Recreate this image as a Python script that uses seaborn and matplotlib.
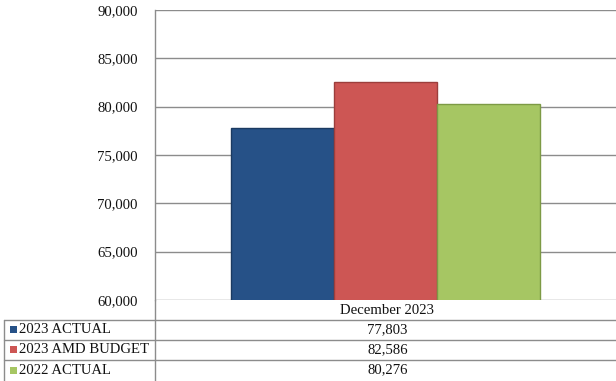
import matplotlib
matplotlib.use("Agg")
import matplotlib.pyplot as plt
import seaborn as sns
import pandas as pd
from matplotlib.lines import Line2D
from matplotlib.patches import Rectangle

categories = ["December 2023"]
series = ["2023 ACTUAL", "2023 AMD BUDGET", "2022 ACTUAL"]
values = [77803, 82586, 80276]
colors = ["#265187", "#CD5654", "#A6C663"]
edge_colors = ["#1b3a61", "#9c3e3c", "#7d9a45"]
yticks = [60000, 65000, 70000, 75000, 80000, 85000, 90000]

df = pd.DataFrame({"month": categories * len(series), "series": series, "value": values})

sns.set_theme(style="white")
plt.rcParams["font.family"] = ["Liberation Serif", "DejaVu Serif"]

FS = 10.6
TXT = "#111111"
W, H = 616, 381
fig = plt.figure(figsize=(W / 100, H / 100), dpi=100)
fig.patch.set_facecolor("white")

left, right, top, bottom = 155, 616, 10, 300
ax = fig.add_axes([left / W, 1 - bottom / H, (right - left) / W, (bottom - top) / H])

sns.barplot(data=df, x="month", y="value", hue="series", palette=colors,
            width=0.67, ax=ax, legend=False, saturation=1)
for patch, ec in zip(ax.patches, edge_colors):
    patch.set_edgecolor(ec)
    patch.set_linewidth(1.0)
    patch.set_zorder(3)

ax.set_xlim(-0.5, 0.5)
ax.set_ylim(60000, 90000)
ax.set_yticks(yticks)
ax.set_yticklabels([f"{v:,}" for v in yticks], fontsize=FS, color=TXT)
ax.tick_params(axis="y", length=0, pad=12.5)
ax.set_xticks([])
ax.set_xlabel("")
ax.set_ylabel("")
for v in yticks:
    ax.axhline(v, color="#8c8c8c", linewidth=1.0, zorder=1)
for s in ["top", "right", "bottom"]:
    ax.spines[s].set_visible(False)
ax.spines["left"].set_color("#8c8c8c")
ax.spines["left"].set_linewidth(1.0)


def fx(x):
    return x / W


def fy(y):
    return 1 - y / H


line_kw = dict(color="#8c8c8c", linewidth=1.0, transform=fig.transFigure)
# table grid
fig.add_artist(Line2D([fx(155), fx(155)], [fy(300), fy(381)], **line_kw))
fig.add_artist(Line2D([fx(4), fx(4)], [fy(320), fy(381)], **line_kw))
for yy in [320, 339.5, 359.5]:
    fig.add_artist(Line2D([fx(4), fx(616)], [fy(yy), fy(yy)], **line_kw))

cx = (155 + 616) / 2 + 2
fig.text(fx(cx), fy(310), categories[0], ha="center", va="center", fontsize=FS, color=TXT)
row_centers = [329.5, 349.5, 370]
for name, val, col, yc in zip(series, values, colors, row_centers):
    fig.add_artist(Rectangle((fx(10), fy(yc + 3.5)), 7 / W, 7 / H, facecolor=col,
                             edgecolor="none", transform=fig.transFigure))
    fig.text(fx(19.5), fy(yc), name, ha="left", va="center", fontsize=FS, color=TXT)
    fig.text(fx(cx), fy(yc), f"{val:,}", ha="center", va="center", fontsize=FS, color=TXT)

fig.savefig("out.png", dpi=100, facecolor="white")
